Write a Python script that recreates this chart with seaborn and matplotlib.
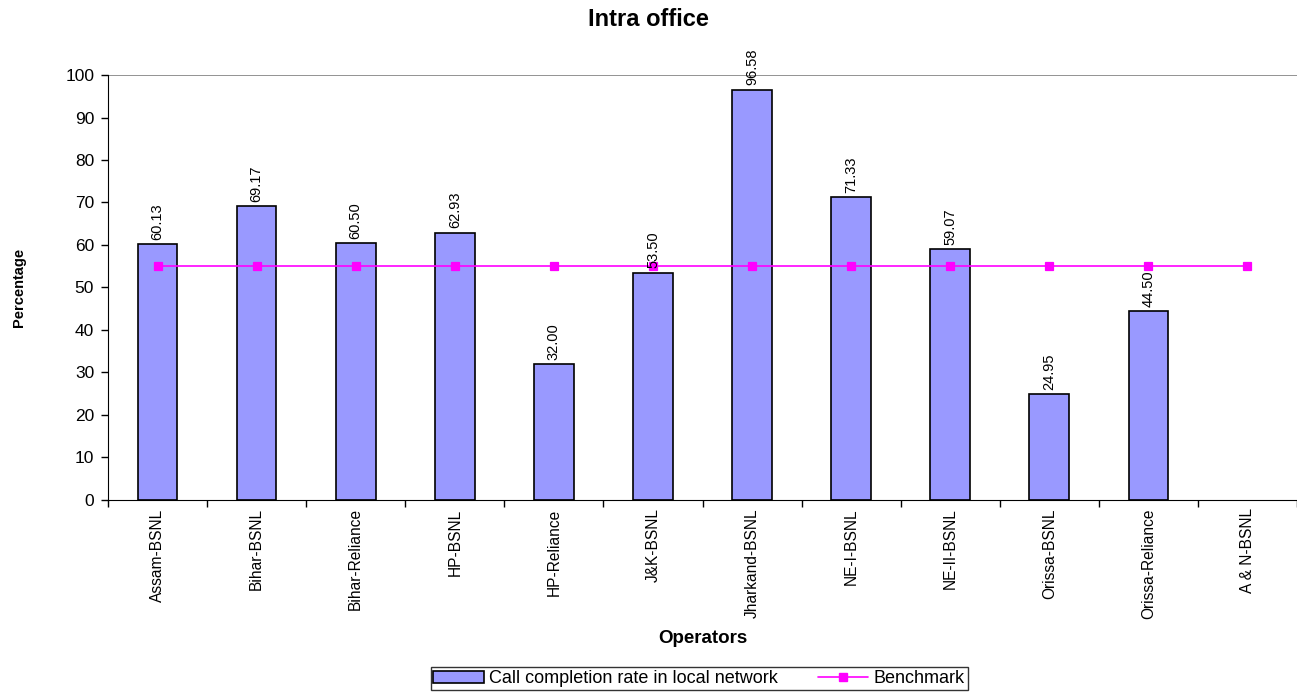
import numpy as np
import pandas as pd
import seaborn as sns
import matplotlib.pyplot as plt
from matplotlib.patches import Patch
from matplotlib.lines import Line2D
from matplotlib.ticker import FixedLocator

# Operators and call completion rates (%)
operators = ["Assam-BSNL", "Bihar-BSNL", "Bihar-Reliance", "HP-BSNL", "HP-Reliance",
             "J&K-BSNL", "Jharkand-BSNL", "NE-I-BSNL", "NE-II-BSNL", "Orissa-BSNL",
             "Orissa-Reliance", "A & N-BSNL"]
completion = [60.13, 69.17, 60.50, 62.93, 32.00, 53.50, 96.58, 71.33, 59.07, 24.95,
              44.50, np.nan]
benchmark = [55] * len(operators)

df = pd.DataFrame({"Operator": operators, "Rate": completion, "Benchmark": benchmark})

sns.set_style("white")
plt.rcParams["font.family"] = ["Liberation Sans", "DejaVu Sans"]
plt.rcParams["text.color"] = "black"
plt.rcParams["axes.labelcolor"] = "black"
plt.rcParams["xtick.color"] = "black"
plt.rcParams["ytick.color"] = "black"

fig = plt.figure(figsize=(12.97, 6.92), dpi=100)
ax = fig.add_axes([0.0833, 0.2775, 0.9167, 0.6141])

bar_color = "#9999FF"
line_color = "#FF00FF"

sns.barplot(data=df, x="Operator", y="Rate", order=operators, color=bar_color,
            edgecolor="black", linewidth=1.2, width=0.4, saturation=1, ax=ax)
sns.pointplot(data=df, x="Operator", y="Benchmark", order=operators, color=line_color,
              markers="s", markersize=6, linewidth=1.2, ax=ax)

# value labels above the bars
labels = [f"{v:.2f}" for v in df["Rate"].dropna()]
ax.bar_label(ax.containers[0], labels=labels, rotation=90, padding=3, fontsize=10.5)

ax.set_ylim(0, 100)
ax.set_xlim(-0.5, len(operators) - 0.5)
ax.set_yticks(range(0, 101, 10))
ax.tick_params(axis="y", labelsize=12.5, direction="out", length=5, width=1, left=True, pad=5)
ax.tick_params(axis="x", which="major", labelsize=11.2, length=0, rotation=90, pad=6)
ax.xaxis.set_minor_locator(FixedLocator(np.arange(-0.5, len(operators), 1)))
ax.tick_params(axis="x", which="minor", direction="out", length=5, width=1, bottom=True)

for side in ["right", "top"]:
    ax.spines[side].set_visible(False)
ax.spines["left"].set_color("black")
ax.spines["bottom"].set_color("black")
ax.axhline(100, color="#808080", linewidth=1.2)

ax.set_xlabel("Operators", fontsize=13.5, fontweight="bold", labelpad=8)
ax.set_ylabel("Percentage", fontsize=10.5, fontweight="bold", labelpad=28)
fig.suptitle("Intra office", fontsize=17, fontweight="bold", y=0.988)

handles = [Patch(facecolor=bar_color, edgecolor="black", linewidth=1.2),
           Line2D([0], [0], color=line_color, marker="s", markersize=6, linewidth=1.2)]
fig.legend(handles, ["Call completion rate in local network", "Benchmark"],
           loc="lower center", bbox_to_anchor=(0.539, -0.01), ncol=2, fontsize=13,
           frameon=True, fancybox=False, edgecolor="black", borderpad=0.15,
           handlelength=2.8, columnspacing=2.2, handletextpad=0.3)

fig.savefig("out.png", dpi=100)
